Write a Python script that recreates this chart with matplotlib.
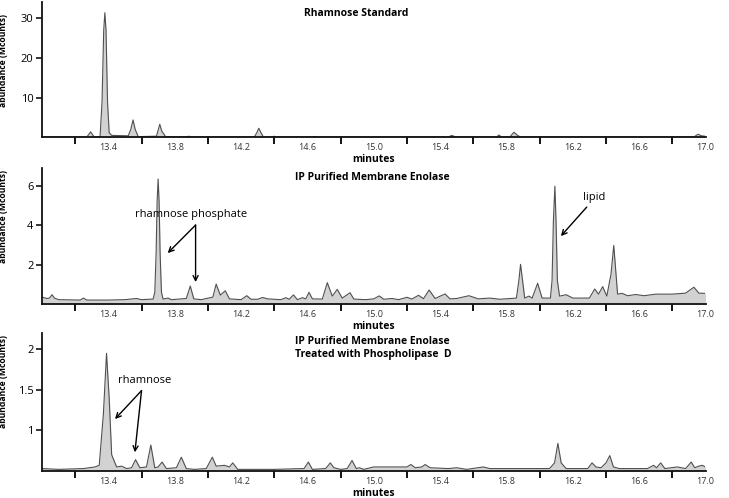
import matplotlib
matplotlib.use("Agg")
import matplotlib.pyplot as plt
from matplotlib.ticker import FormatStrFormatter

plt.rcParams['font.family'] = ['Open Sans', 'DejaVu Sans']

# Rhamnose standard trace (minutes, Mcounts)
std_t = [13.00, 13.27, 13.283, 13.293, 13.303, 13.315, 13.35, 13.362, 13.372, 13.379,
         13.386, 13.395, 13.405, 13.42, 13.52, 13.535, 13.549, 13.562, 13.58, 13.69,
         13.70, 13.71, 13.722, 13.745, 13.87, 13.885, 13.90, 14.28, 14.295, 14.307,
         14.32, 14.335, 14.39, 14.40, 14.41, 14.52, 14.53, 14.54, 14.63, 14.645,
         14.66, 15.34, 15.35, 15.36, 15.45, 15.47, 15.495, 15.74, 15.755, 15.77,
         15.82, 15.845, 15.87, 15.89, 16.93, 16.955, 16.975, 17.00]
std_y = [0.1, 0.1, 0.8, 1.4, 0.8, 0.1, 0.2, 9.0, 27.0, 31.4,
         27.0, 9.0, 1.2, 0.5, 0.4, 2.0, 4.4, 2.0, 0.2, 0.3,
         1.8, 3.3, 1.6, 0.2, 0.1, 0.3, 0.1, 0.1, 1.2, 2.3,
         1.2, 0.1, 0.1, 0.3, 0.1, 0.1, 0.25, 0.1, 0.1, 0.25,
         0.1, 0.1, 0.2, 0.1, 0.1, 0.5, 0.1, 0.1, 0.6, 0.1,
         0.1, 1.3, 0.4, 0.1, 0.1, 0.8, 0.4, 0.3]

# IP purified membrane enolase trace
mem_t = [13.00, 13.03, 13.045, 13.06, 13.075, 13.10, 13.23, 13.25, 13.27, 13.40,
         13.50, 13.57, 13.60, 13.67, 13.68, 13.688, 13.694, 13.70, 13.706, 13.712,
         13.72, 13.73, 13.76, 13.78, 13.87, 13.894, 13.915, 13.96, 14.03, 14.05,
         14.075, 14.105, 14.13, 14.20, 14.235, 14.26, 14.30, 14.33, 14.36, 14.44,
         14.47, 14.49, 14.516, 14.54, 14.57, 14.59, 14.61, 14.63, 14.69, 14.72,
         14.75, 14.78, 14.81, 14.857, 14.88, 14.95, 15.00, 15.033, 15.06, 15.11,
         15.15, 15.20, 15.23, 15.27, 15.30, 15.334, 15.37, 15.43, 15.46, 15.50,
         15.574, 15.63, 15.70, 15.76, 15.86, 15.875, 15.885, 15.897, 15.91, 15.935,
         15.955, 15.988, 16.015, 16.065, 16.075, 16.083, 16.092, 16.099, 16.107, 16.12,
         16.16, 16.20, 16.30, 16.332, 16.355, 16.38, 16.405, 16.43, 16.447, 16.47,
         16.497, 16.53, 16.58, 16.63, 16.70, 16.80, 16.88, 16.93, 16.96, 17.00]
mem_y = [0.35, 0.28, 0.30, 0.47, 0.30, 0.22, 0.20, 0.30, 0.20, 0.20,
         0.22, 0.28, 0.22, 0.25, 0.60, 2.60, 5.20, 6.33, 5.20, 2.60,
         0.60, 0.25, 0.30, 0.22, 0.28, 0.91, 0.26, 0.22, 0.35, 1.01,
         0.45, 0.67, 0.26, 0.22, 0.42, 0.24, 0.24, 0.33, 0.26, 0.22,
         0.32, 0.24, 0.46, 0.22, 0.32, 0.26, 0.59, 0.26, 0.25, 1.08,
         0.40, 0.74, 0.30, 0.57, 0.25, 0.22, 0.26, 0.41, 0.24, 0.28,
         0.22, 0.34, 0.25, 0.44, 0.27, 0.71, 0.28, 0.51, 0.26, 0.28,
         0.42, 0.26, 0.30, 0.24, 0.30, 1.20, 2.01, 1.20, 0.30, 0.40,
         0.30, 1.05, 0.30, 0.30, 1.20, 4.20, 5.97, 4.20, 1.20, 0.40,
         0.47, 0.30, 0.30, 0.76, 0.50, 0.88, 0.40, 1.50, 2.97, 0.50,
         0.54, 0.42, 0.48, 0.42, 0.50, 0.50, 0.55, 0.85, 0.55, 0.54]

# Treated with phospholipase D trace
pld_t = [13.00, 13.10, 13.25, 13.32, 13.345, 13.37, 13.389, 13.405, 13.42, 13.45,
         13.48, 13.51, 13.54, 13.564, 13.59, 13.63, 13.656, 13.68, 13.70, 13.724,
         13.75, 13.81, 13.84, 13.87, 13.92, 13.99, 14.027, 14.05, 14.10, 14.13,
         14.15, 14.18, 14.40, 14.58, 14.606, 14.63, 14.71, 14.738, 14.76, 14.80,
         14.84, 14.869, 14.895, 14.913, 14.94, 15.00, 15.10, 15.20, 15.224, 15.25,
         15.29, 15.31, 15.34, 15.45, 15.50, 15.56, 15.66, 15.70, 16.06, 16.09,
         16.11, 16.13, 16.16, 16.29, 16.316, 16.34, 16.37, 16.40, 16.423, 16.445,
         16.48, 16.65, 16.687, 16.705, 16.73, 16.755, 16.83, 16.88, 16.914, 16.935,
         16.96, 16.98, 17.00]
pld_y = [0.53, 0.52, 0.53, 0.55, 0.57, 1.20, 1.95, 1.40, 0.70, 0.55,
         0.56, 0.53, 0.54, 0.64, 0.54, 0.55, 0.82, 0.54, 0.55, 0.61,
         0.53, 0.54, 0.67, 0.53, 0.52, 0.53, 0.67, 0.56, 0.57, 0.55,
         0.60, 0.52, 0.52, 0.53, 0.61, 0.52, 0.53, 0.60, 0.54, 0.52,
         0.53, 0.63, 0.53, 0.54, 0.52, 0.55, 0.55, 0.55, 0.58, 0.54,
         0.55, 0.58, 0.54, 0.53, 0.54, 0.52, 0.55, 0.53, 0.53, 0.60,
         0.84, 0.60, 0.53, 0.53, 0.60, 0.55, 0.54, 0.60, 0.69, 0.55,
         0.53, 0.53, 0.57, 0.54, 0.60, 0.53, 0.55, 0.53, 0.61, 0.54,
         0.56, 0.57, 0.55]

label_ticks = [13.4, 13.8, 14.2, 14.6, 15.0, 15.4, 15.8, 16.2, 16.6, 17.0]
label_text = ['13.4', '13.8', '14.2', '14.6', '15.0', '15.4', '15.8', '16.2', '16.6', '17.0']
mark_ticks = [13.2, 13.6, 14.0, 14.4, 14.8, 15.2, 15.6, 16.0, 16.4, 16.8, 17.0]

W, H = 729, 498
fig = plt.figure(figsize=(W / 100, H / 100), dpi=100)


def make_axes(top, bottom):
    return fig.add_axes([42 / W, 1 - bottom / H, 663.5 / W, (bottom - top) / H])


def draw_trace(ax, t, y, ylim, yticks, ylab_y):
    ax.fill_between(t, y, ylim[0], color='#d2d2d2', lw=0)
    ax.plot(t, y, color='#505050', lw=0.8)
    ax.set_xlim(13.0, 17.0)
    ax.set_ylim(*ylim)
    ax.set_yticks(yticks)
    ax.yaxis.set_major_formatter(FormatStrFormatter('%g'))
    ax.set_xticks(label_ticks, label_text)
    ax.set_xticks(mark_ticks, minor=True)
    for s in ['top', 'right']:
        ax.spines[s].set_visible(False)
    for s in ['left', 'bottom']:
        ax.spines[s].set_linewidth(1.3)
        ax.spines[s].set_color('#111111')
    ax.tick_params(axis='x', which='major', length=0, pad=4, labelsize=6.5, labelcolor='#333333')
    ax.tick_params(axis='x', which='minor', length=5, width=1.3, direction='out')
    ax.tick_params(axis='y', length=4, width=1.1, pad=2, labelsize=8)
    ax.set_xlabel('minutes', fontsize=7.5, fontweight='bold', labelpad=0)
    ax.xaxis.set_label_coords(0.5, -17.0 / (ylim_px[ax] if ax in ylim_px else 136))
    ax.set_ylabel('abundance (Mcounts)', fontsize=6.2, fontweight='bold')
    ax.yaxis.set_label_coords(-0.051, ylab_y)


ylim_px = {}

ax1 = make_axes(2, 137.4)
ylim_px[ax1] = 135.4
draw_trace(ax1, std_t, std_y, (0, 34.1), [10, 20, 30], 0.57)
fig.text(356 / W, 1 - 13 / H, 'Rhamnose Standard', ha='center', va='center',
         fontsize=7.5, fontweight='bold')

ax2 = make_axes(168, 304)
ylim_px[ax2] = 136
draw_trace(ax2, mem_t, mem_y, (0, 6.89), [2, 4, 6], 0.64)
fig.text(372 / W, 1 - 177 / H, 'IP Purified Membrane Enolase', ha='center', va='center',
         fontsize=7.5, fontweight='bold')
ax2.text(13.90, 4.55, 'rhamnose phosphate', ha='center', va='center', fontsize=8)
arrow = dict(arrowstyle='->', color='black', lw=1.0, mutation_scale=9, shrinkA=0, shrinkB=0)
ax2.annotate('', xy=(13.758, 2.58), xytext=(13.926, 4.0), arrowprops=arrow)
ax2.annotate('', xy=(13.926, 1.11), xytext=(13.926, 4.0), arrowprops=arrow)
ax2.text(16.326, 5.42, 'lipid', ha='center', va='center', fontsize=8)
ax2.annotate('', xy=(16.128, 3.44), xytext=(16.284, 4.91), arrowprops=arrow)

ax3 = make_axes(333, 471)
ylim_px[ax3] = 138
draw_trace(ax3, pld_t, pld_y, (0.5, 2.2), [1, 1.5, 2], 0.645)
fig.text(295 / W, 1 - 347.5 / H, 'IP Purified Membrane Enolase\nTreated with Phospholipase  D',
         ha='left', va='center', fontsize=7.5, fontweight='bold', linespacing=1.25)
ax3.text(13.62, 1.61, 'rhamnose', ha='center', va='center', fontsize=8)
ax3.annotate('', xy=(13.44, 1.14), xytext=(13.60, 1.49), arrowprops=arrow)
ax3.annotate('', xy=(13.56, 0.73), xytext=(13.60, 1.49), arrowprops=arrow)

fig.savefig('out.png', dpi=100)
